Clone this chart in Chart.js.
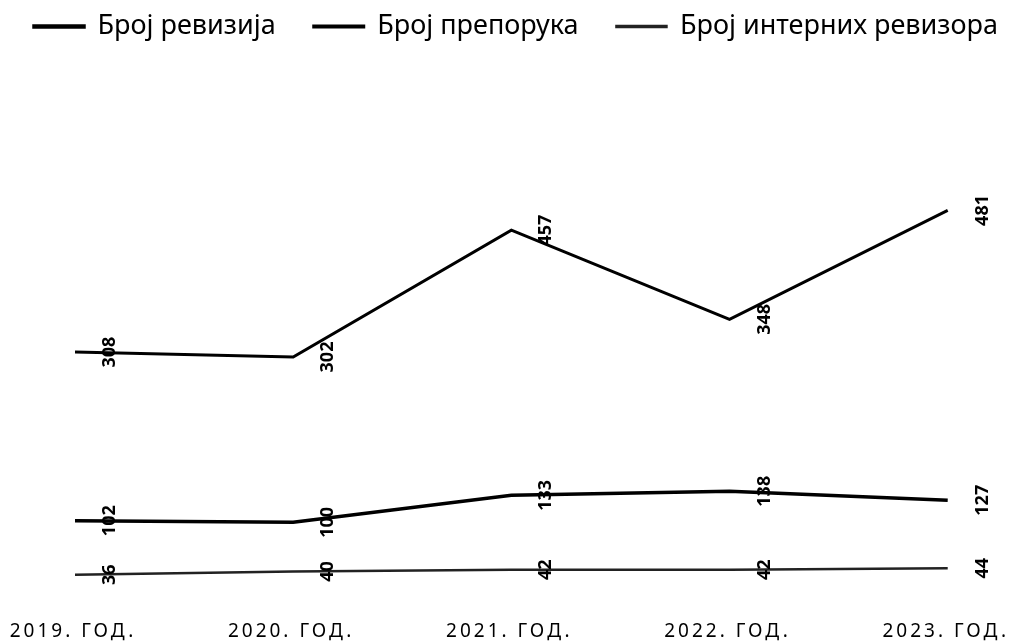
<!DOCTYPE html>
<html>
<head>
<meta charset="utf-8">
<script src="https://cdn.jsdelivr.net/npm/chart.js@4.4.1/dist/chart.umd.min.js"></script>
<style>
  html, body { margin: 0; padding: 0; background: #fff; }
  #wrap { width: 1012px; height: 641px; }
</style>
</head>
<body>
<div id="wrap"><canvas id="grafico"></canvas></div>
<script>
// podaci sa grafikona
var godine = ['2019. ГОД.', '2020. ГОД.', '2021. ГОД.', '2022. ГОД.', '2023. ГОД.'];
var nazivi = ['Број ревизија', 'Број препорука', 'Број интерних ревизора'];
var brojRevizija = [102, 100, 133, 138, 127];
var brojPreporuka = [308, 302, 457, 348, 481];
var brojRevizora = [36, 40, 42, 42, 44];

// oznake vrednosti, uspravno pored tacke
var oznakePlugin = {
  id: 'oznake',
  beforeDraw: function (chart) {
    chart.ctx.letterSpacing = '0px';
  },
  afterDatasetsDraw: function (chart) {
    var ctx = chart.ctx;
    chart.data.datasets.forEach(function (ds, i) {
      var meta = chart.getDatasetMeta(i);
      meta.data.forEach(function (pt, j) {
        ctx.save();
        ctx.translate(pt.x + 35, pt.y);
        ctx.rotate(-Math.PI / 2);
        ctx.font = 'bold 18px "Noto Sans"';
        ctx.fillStyle = '#000';
        ctx.textAlign = 'center';
        ctx.textBaseline = 'middle';
        ctx.fillText(String(ds.data[j]), 0, 0);
        ctx.restore();
      });
    });
    // razmak slova za oznake godina (x osa se crta posle ovoga)
    ctx.letterSpacing = '3px';
  },
  afterDraw: function (chart) {
    chart.ctx.letterSpacing = '0px';
  }
};

// nevidljive y ose samo drze mesto levo i desno
function praznaOsa(pozicija, sirina) {
  return {
    position: pozicija,
    min: 0,
    max: 677,
    grid: { display: false, drawTicks: false },
    border: { display: false },
    ticks: { display: false },
    afterFit: function (osa) { osa.width = sirina; }
  };
}

var canvas = document.getElementById('grafico');
new Chart(canvas.getContext('2d'), {
  type: 'line',
  data: {
    labels: godine,
    datasets: [
      { label: nazivi[0], data: brojRevizija, borderColor: '#000', backgroundColor: '#000', borderWidth: 3.5 },
      { label: nazivi[1], data: brojPreporuka, borderColor: '#000', backgroundColor: '#000', borderWidth: 3 },
      { label: nazivi[2], data: brojRevizora, borderColor: '#222', backgroundColor: '#222', borderWidth: 2.5 }
    ]
  },
  options: {
    responsive: true,
    maintainAspectRatio: false,
    animation: false,
    elements: { point: { radius: 0 }, line: { tension: 0 } },
    layout: { padding: { top: -25, left: -10, right: -30, bottom: -18 } },
    plugins: {
      legend: {
        position: 'top',
        labels: {
          boxWidth: 50,
          boxHeight: 1,
          padding: 38,
          color: '#000',
          font: { family: '"Noto Sans"', size: 27 }
        }
      },
      tooltip: { enabled: false }
    },
    scales: {
      x: {
        offset: false,
        grid: { display: false, drawTicks: false },
        border: { display: false },
        ticks: {
          z: 1,
          color: '#000',
          padding: 16,
          labelOffset: -2,
          maxRotation: 0,
          autoSkip: false,
          font: { family: '"Noto Sans"', size: 19 }
        }
      },
      y: praznaOsa('left', 85),
      y2: praznaOsa('right', 94)
    }
  },
  plugins: [oznakePlugin]
});
</script>
</body>
</html>
